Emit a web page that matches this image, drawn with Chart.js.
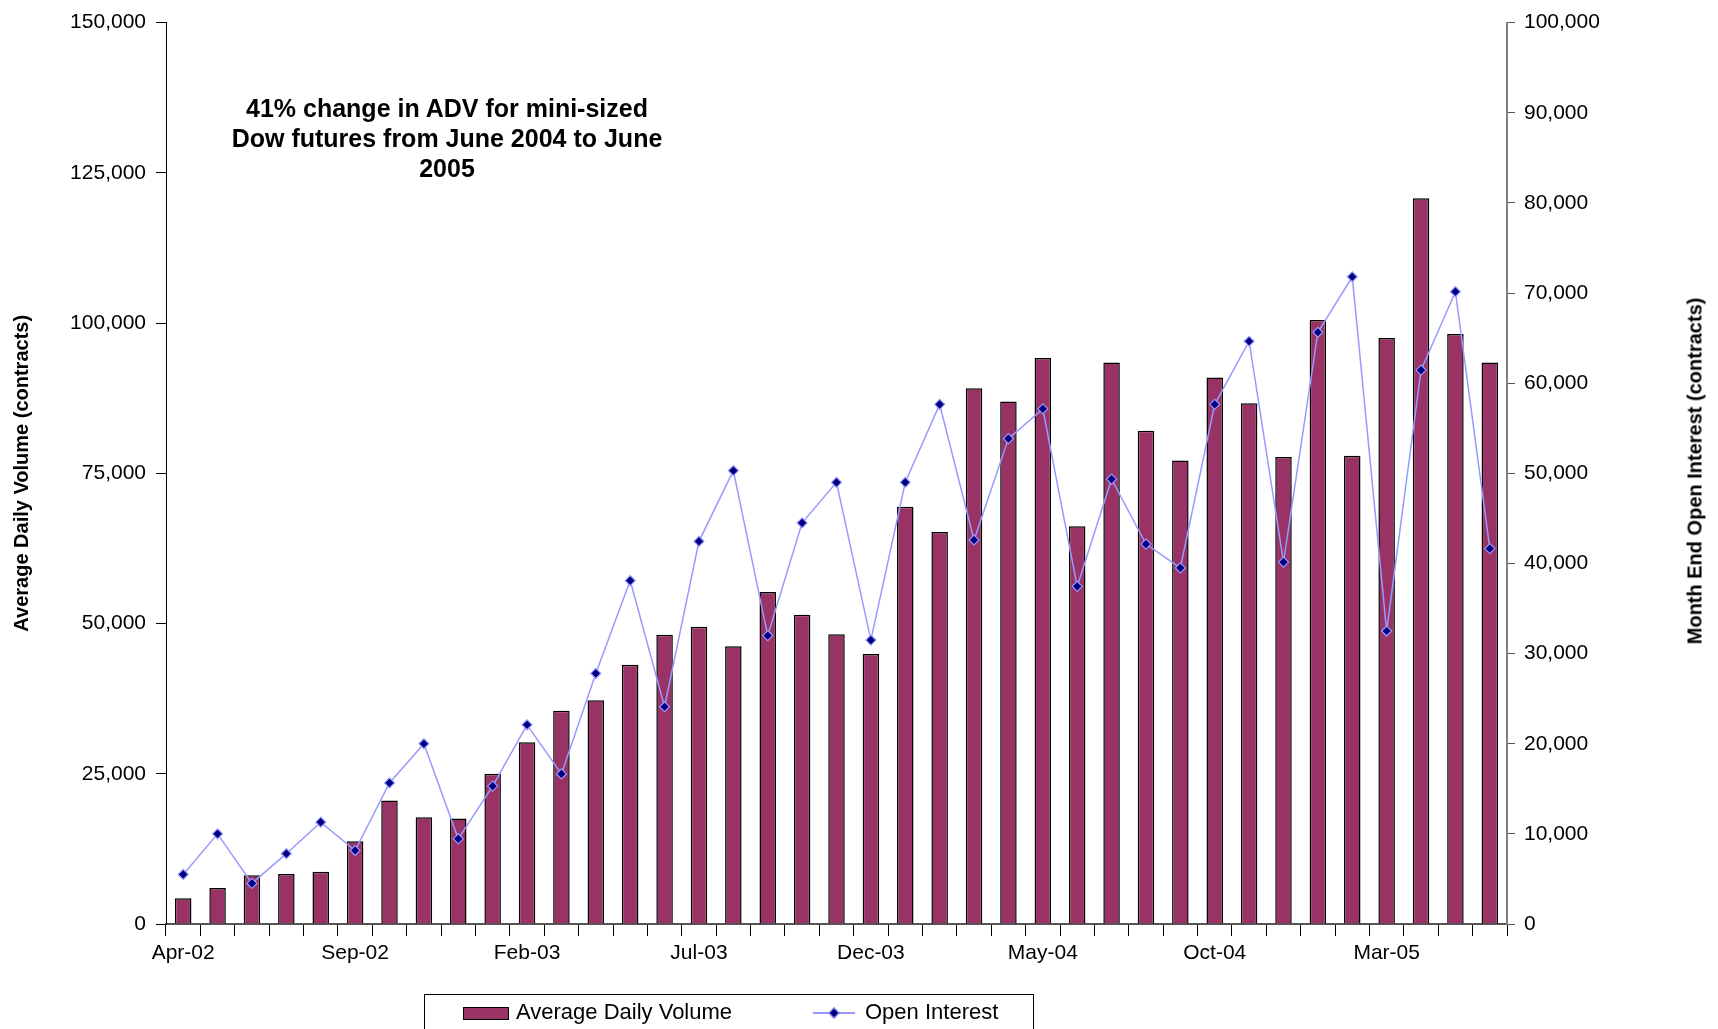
<!DOCTYPE html>
<html>
<head>
<meta charset="utf-8">
<title>Mini-sized Dow futures ADV and open interest</title>
<script src="https://cdn.jsdelivr.net/npm/chart.js@4.4.1/dist/chart.umd.min.js"></script>
<style>
  html, body { margin: 0; padding: 0; background: #fff; }
  #wrap { position: relative; width: 1718px; height: 1029px; overflow: hidden;
          font-family: "Liberation Sans", Arial, sans-serif; color: #000; }
  #chart { position: absolute; left: 0; top: 0; }
  #note { position: absolute; left: 167px; top: 93px; width: 560px; text-align: center;
          font-weight: bold; font-size: 25px; line-height: 30px; }
  #rightTitle { position: absolute; left: 1695px; top: 471px; white-space: nowrap;
                font-weight: bold; font-size: 20px;
                transform: translate(-50%, -50%) rotate(-90deg); }
  #legend { position: absolute; left: 424px; top: 994px; width: 608px; height: 60px;
            border: 1px solid #000; font-size: 22px; }
  .item { position: absolute; top: 4px; height: 26px; line-height: 26px; white-space: nowrap; }
  .swatch { display: inline-block; width: 44px; height: 11px; background: #993366;
            border: 1px solid #000; vertical-align: middle; margin-right: 7px; }
  .lineKey { display: inline-block; position: relative; width: 42px; height: 26px;
             vertical-align: middle; margin-right: 10px; }
  .lineKey:before { content: ""; position: absolute; left: 0; right: 0; top: 12px;
                    border-top: 2px solid #9999FF; }
  .lineKey:after { content: ""; position: absolute; left: 17px; top: 9px; width: 6px; height: 6px;
                   background: #000080; border: 1px solid #9999FF; transform: rotate(45deg); }
</style>
</head>
<body>
<div id="wrap">
  <canvas id="chart" width="1718" height="1029"></canvas>
  <div id="note">41% change in ADV for mini-sized<br>Dow futures from June 2004 to June<br>2005</div>
  <div id="rightTitle">Month End Open Interest (contracts)</div>
  <div id="legend">
    <div class="item" style="left: 38px;"><span class="swatch"></span>Average Daily Volume</div>
    <div class="item" style="left: 388px;"><span class="lineKey"></span>Open Interest</div>
  </div>
</div>
<script>
// Месяцы
const months = [
  'Apr-02', 'May-02', 'Jun-02', 'Jul-02', 'Aug-02', 'Sep-02', 'Oct-02', 'Nov-02', 'Dec-02',
  'Jan-03', 'Feb-03', 'Mar-03', 'Apr-03', 'May-03', 'Jun-03', 'Jul-03', 'Aug-03', 'Sep-03',
  'Oct-03', 'Nov-03', 'Dec-03', 'Jan-04', 'Feb-04', 'Mar-04', 'Apr-04', 'May-04', 'Jun-04',
  'Jul-04', 'Aug-04', 'Sep-04', 'Oct-04', 'Nov-04', 'Dec-04', 'Jan-05', 'Feb-05', 'Mar-05',
  'Apr-05', 'May-05', 'Jun-05'
];

// Подписи оси X (каждый пятый месяц)
const xTickLabels = ['Apr-02', 'Sep-02', 'Feb-03', 'Jul-03', 'Dec-03', 'May-04', 'Oct-04', 'Mar-05'];

// Средний дневной объём (контракты)
const avgDailyVolume = [
  4300, 6000, 8100, 8300, 8700, 13750, 20550, 17750, 17550,
  25000, 30250, 35500, 37250, 43150, 48150, 49450, 46200, 55250,
  51450, 48200, 44950, 69450, 65250, 89150, 86950, 94200, 66200,
  93450, 82100, 77150, 90950, 86650, 77700, 100500, 77900, 97500,
  120750, 98200, 93450
];

// Открытый интерес на конец месяца
const openInterest = [
  5500, 10000, 4500, 7800, 11300, 8150, 15650, 20000, 9450,
  15300, 22100, 16650, 27800, 38100, 24100, 42450, 50300, 32000,
  44500, 49000, 31500, 49000, 57650, 42600, 53850, 57150, 37450,
  49350, 42150, 39500, 57650, 64650, 40150, 65650, 71800, 32500,
  61450, 70150, 41650
];

Chart.defaults.font.family = '"Liberation Sans", Arial, sans-serif';
Chart.defaults.font.size = 21;
Chart.defaults.color = '#000';

const fmt = v => Number(v).toLocaleString('en-US');

const ctx = document.getElementById('chart').getContext('2d');
new Chart(ctx, {
  data: {
    labels: months,
    datasets: [
      {
        type: 'line',
        label: 'Open Interest',
        data: openInterest,
        yAxisID: 'y1',
        borderColor: '#9999FF',
        borderWidth: 1.5,
        tension: 0,
        pointStyle: 'rectRot',
        pointRadius: 5,
        pointBackgroundColor: '#000080',
        pointBorderColor: '#9999FF',
        pointBorderWidth: 1.2
      },
      {
        type: 'bar',
        label: 'Average Daily Volume',
        data: avgDailyVolume,
        yAxisID: 'y',
        backgroundColor: '#993366',
        borderColor: '#000',
        borderWidth: 1.5,
        categoryPercentage: 1,
        barPercentage: 0.48
      }
    ]
  },
  options: {
    responsive: false,
    animation: false,
    layout: { padding: { top: 18, left: 0, right: 0, bottom: 0 } },
    plugins: {
      legend: { display: false },
      tooltip: { enabled: false }
    },
    scales: {
      x: {
        offset: true,
        border: { color: '#555', width: 2 },
        grid: { display: true, offset: true, drawOnChartArea: false, drawTicks: true,
                tickLength: 12, color: '#000', lineWidth: 1 },
        ticks: {
          autoSkip: false,
          maxRotation: 0,
          padding: 5,
          callback: (v, i) => xTickLabels.includes(months[i]) ? months[i] : ''
        },
        afterFit: s => { s.height = 105; }
      },
      y: {
        position: 'left',
        min: 0,
        max: 150000,
        border: { color: '#000', width: 1 },
        grid: { drawOnChartArea: false, drawTicks: true, tickLength: 10, color: '#000' },
        ticks: { stepSize: 25000, padding: 10, callback: fmt },
        title: {
          display: true,
          text: 'Average Daily Volume (contracts)',
          font: { weight: 'bold', size: 20 },
          padding: { top: 10, bottom: 0 }
        },
        afterFit: s => { s.width = 166; }
      },
      y1: {
        position: 'right',
        min: 0,
        max: 100000,
        border: { color: '#808080', width: 2 },
        grid: { drawOnChartArea: false, drawTicks: true, tickLength: 8, color: '#555' },
        ticks: { stepSize: 10000, padding: 9, callback: fmt },
        afterFit: s => { s.width = 211; }
      }
    }
  }
});
</script>
</body>
</html>
